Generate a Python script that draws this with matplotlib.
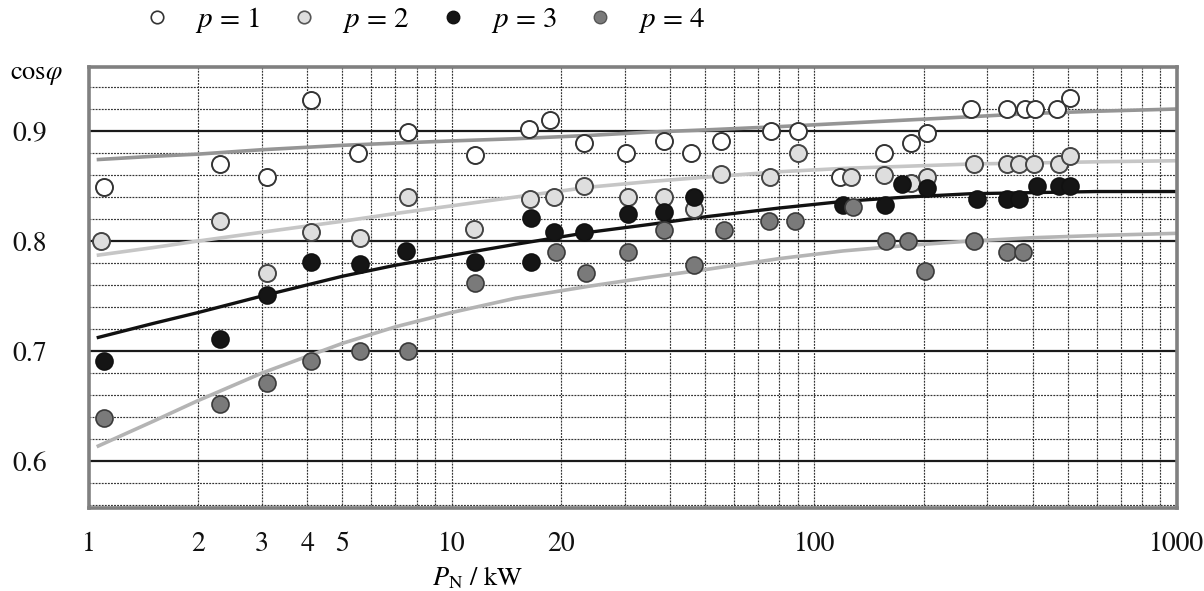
import matplotlib
matplotlib.use("Agg")
import matplotlib.pyplot as plt
from matplotlib.lines import Line2D
import numpy as np

plt.rcParams['font.family'] = ['STIXGeneral', 'DejaVu Serif']
plt.rcParams['mathtext.fontset'] = 'stix'

# ---- data ----
p1_P = [1.1, 2.3, 3.1, 4.1, 5.5, 7.6, 11.6, 16.3, 18.7, 23.1, 30.2, 38.5, 45.6, 55.2,
        75.8, 90.2, 118, 156, 185, 205, 271, 340, 382, 407, 466, 508]
p1_cos = [0.849, 0.870, 0.858, 0.928, 0.880, 0.899, 0.878, 0.902, 0.910, 0.889, 0.880, 0.891, 0.880, 0.891,
          0.900, 0.900, 0.858, 0.880, 0.889, 0.898, 0.920, 0.920, 0.920, 0.920, 0.920, 0.930]

p2_P = [1.08, 2.3, 3.1, 4.1, 5.6, 7.6, 11.5, 16.4, 19.1, 23.1, 30.6, 38.5, 46.5, 55.2,
        75.3, 90.2, 126, 156, 185, 205, 276, 340, 366, 404, 472, 508]
p2_cos = [0.800, 0.818, 0.771, 0.808, 0.803, 0.840, 0.811, 0.838, 0.840, 0.850, 0.840, 0.840, 0.829, 0.861,
          0.858, 0.880, 0.858, 0.860, 0.853, 0.858, 0.870, 0.870, 0.870, 0.870, 0.870, 0.877]

p3_P = [1.1, 2.3, 3.1, 4.1, 5.6, 7.5, 11.6, 16.6, 16.6, 19.1, 23.1, 30.6, 38.5, 46.5,
        120, 157, 175, 205, 280, 340, 366, 411, 472, 508]
p3_cos = [0.691, 0.711, 0.751, 0.781, 0.779, 0.791, 0.781, 0.821, 0.781, 0.808, 0.808, 0.825, 0.826, 0.840,
          0.833, 0.833, 0.852, 0.848, 0.838, 0.838, 0.838, 0.850, 0.850, 0.850]

p4_P = [1.1, 2.3, 3.1, 4.1, 5.6, 7.6, 11.6, 19.4, 23.4, 30.6, 38.5, 46.5, 56.3, 74.9, 88.5,
        128, 158, 181, 202, 276, 340, 375]
p4_cos = [0.639, 0.652, 0.671, 0.691, 0.700, 0.700, 0.762, 0.790, 0.771, 0.790, 0.810, 0.778, 0.810, 0.818, 0.818,
          0.831, 0.800, 0.800, 0.773, 0.800, 0.790, 0.790]

curve_P = [1.05, 1.5, 2, 3, 5, 7, 10, 15, 24, 35, 50, 80, 120, 180, 270, 400, 600, 1000]
curve1 = [0.874, 0.877, 0.879, 0.883, 0.887, 0.889, 0.891, 0.893, 0.896, 0.899, 0.901, 0.904,
          0.907, 0.910, 0.913, 0.916, 0.918, 0.920]
curve2 = [0.787, 0.794, 0.800, 0.808, 0.818, 0.825, 0.832, 0.840, 0.849, 0.854, 0.858, 0.863,
          0.866, 0.868, 0.870, 0.871, 0.872, 0.873]
curve3 = [0.712, 0.725, 0.735, 0.750, 0.768, 0.778, 0.787, 0.797, 0.808, 0.815, 0.822, 0.830,
          0.836, 0.840, 0.843, 0.844, 0.845, 0.845]
curve4 = [0.613, 0.636, 0.655, 0.680, 0.707, 0.722, 0.735, 0.748, 0.759, 0.767, 0.774, 0.784,
          0.791, 0.796, 0.800, 0.803, 0.805, 0.807]

legend_labels = ['$p$ = 1', '$p$ = 2', '$p$ = 3', '$p$ = 4']
x_ticks = [1, 2, 3, 4, 5, 10, 20, 100, 1000]
y_ticks = [0.6, 0.7, 0.8, 0.9]

# ---- figure ----
fig = plt.figure(figsize=(12.04, 5.91), dpi=100)
ax = fig.add_axes([89/1204, 1-508/591, (1177-89)/1204, (508-67)/591])
ax.set_xscale('log')
ax.set_xlim(1, 1000)
ax.set_ylim(0.5573, 0.9582)

# grid
grid_kw = dict(color='#333333', lw=0.85, dashes=(1.6, 1.0), zorder=1)
for dec in [1, 10, 100]:
    for k in range(2, 11):
        v = dec * k
        if v < 1000:
            ax.axvline(v, **grid_kw)
for yv in np.arange(0.56, 0.96, 0.02):
    if abs(round(yv * 10) - yv * 10) > 1e-6:
        ax.axhline(yv, **grid_kw)
for yv in y_ticks:
    ax.axhline(yv, color='#1a1a1a', lw=1.6, zorder=1.5)

# curves
ax.plot(curve_P, curve1, color='#959595', lw=2.6, zorder=2, solid_capstyle='butt')
ax.plot(curve_P, curve2, color='#c6c6c6', lw=2.6, zorder=2, solid_capstyle='butt')
ax.plot(curve_P, curve3, color='#111111', lw=2.4, zorder=2, solid_capstyle='butt')
ax.plot(curve_P, curve4, color='#b4b4b4', lw=2.6, zorder=2, solid_capstyle='butt')

# points
ms = 150
ax.scatter(p1_P, p1_cos, s=ms, facecolor='white', edgecolor='#333333', lw=1.4, zorder=3)
ax.scatter(p2_P, p2_cos, s=ms, facecolor='#dedede', edgecolor='#444444', lw=1.4, zorder=3)
ax.scatter(p3_P, p3_cos, s=ms, facecolor='#151515', edgecolor='#111111', lw=1.2, zorder=3)
ax.scatter(p4_P, p4_cos, s=ms, facecolor='#7a7a7a', edgecolor='#3a3a3a', lw=1.2, zorder=3)

# ticks
ax.set_xticks(x_ticks)
ax.set_xticklabels([str(v) for v in x_ticks])
ax.xaxis.set_minor_locator(matplotlib.ticker.NullLocator())
ax.set_yticks(y_ticks)
ax.set_yticklabels([f'{v:.1f}' for v in y_ticks])
ax.tick_params(axis='both', length=0, labelsize=20, colors='#111111')
ax.tick_params(axis='y', pad=30)
ax.tick_params(axis='x', pad=17)

for sp in ax.spines.values():
    sp.set_color('#808080')
    sp.set_linewidth(2.6)
    sp.set_zorder(4)

ax.set_xlabel('$P_\\mathrm{N}$ / kW', fontsize=19)
ax.xaxis.set_label_coords(0.357, -0.128)
fig.text(10/1204, 1-75/591, 'cos$\\varphi$', fontsize=19, ha='left', va='center')

# legend
handles = [
    Line2D([], [], ls='none', marker='o', ms=9, mfc='white', mec='#333333', mew=1.2),
    Line2D([], [], ls='none', marker='o', ms=9, mfc='#dedede', mec='#555555', mew=1.2),
    Line2D([], [], ls='none', marker='o', ms=9, mfc='#151515', mec='#111111', mew=1.0),
    Line2D([], [], ls='none', marker='o', ms=9, mfc='#7a7a7a', mec='#555555', mew=1.0),
]
fig.legend(handles, legend_labels, ncol=4, loc='center', bbox_to_anchor=(424/1204, 1-20/591),
           frameon=False, fontsize=21, handletextpad=0.8, columnspacing=1.0, handlelength=1.0)

fig.savefig('out.png', dpi=100)
